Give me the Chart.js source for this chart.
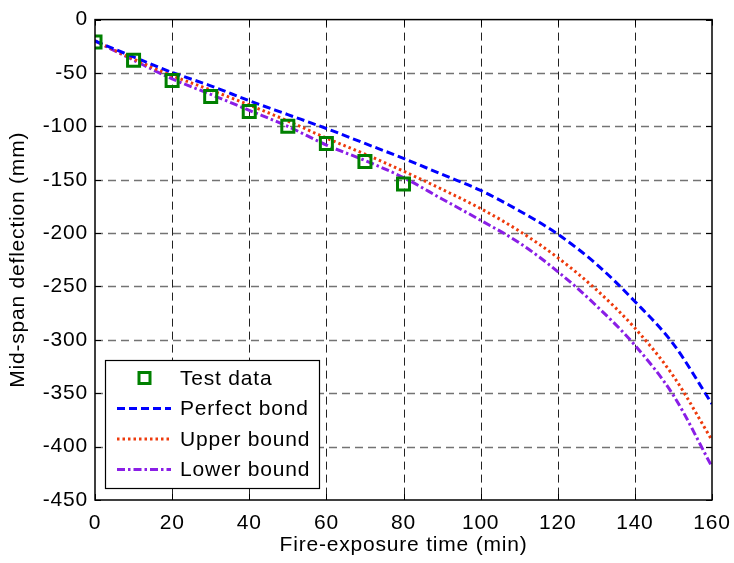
<!DOCTYPE html>
<html>
<head>
<meta charset="utf-8">
<script src="https://cdn.jsdelivr.net/npm/chart.js@4/dist/chart.umd.min.js"></script>
<style>
  body { margin: 0; background: #fff; }
  #wrap { width: 734px; height: 563px; }
</style>
</head>
<body>
<div id="wrap"><canvas id="deflectionChart" width="734" height="563"></canvas></div>
<script>
// fire exposure time (min)
var times = [0, 10, 20, 30, 40, 50, 60, 70, 80, 90, 100, 110, 120, 130, 140, 150, 160];
// mid-span deflection (mm) from the models
var perfectBond = [-20, -35, -49.5, -62, -76, -89, -102, -116, -130, -145, -160, -179, -201, -229, -264, -304, -360];
var upperBound = [-20, -37, -52.5, -66, -80, -95, -111, -126, -142, -159, -177, -198, -223, -253, -289, -334, -394];
var lowerBound = [-20, -38, -55.5, -70, -85, -100, -117.5, -132, -148, -168, -188, -209, -236, -268, -305, -352, -419];
// furnace test
var testTimes = [0, 10, 20, 30, 40, 50, 60, 70, 80];
var testData = [-21, -38, -57, -72, -86, -100, -116, -133, -154];

var xTicks = [0, 20, 40, 60, 80, 100, 120, 140, 160];
var yTicks = [0, -50, -100, -150, -200, -250, -300, -350, -400, -450];

var FONT = "'Liberation Sans', Arial, sans-serif";
var FSIZE = 21;

toXY = (xs, ys) => xs.map((x, i) => ({ x: x, y: ys[i] }));

/************************ grid + box */
var matlabAxes = {
    id: 'matlabAxes',
    beforeDraw: (chart) => {
        // helvetica-like wider spacing
        chart.ctx.letterSpacing = '0.8px';
    },
    beforeDatasetsDraw: (chart) => {
        let ctx = chart.ctx, a = chart.chartArea;
        let xs = chart.scales.x, ys = chart.scales.y;
        ctx.save();
        ctx.setLineDash([8, 5]);
        // horizontal grid
        ctx.strokeStyle = 'rgba(0,0,0,0.55)';
        ctx.lineWidth = 1.5;
        yTicks.forEach(v => {
            let py = Math.round(ys.getPixelForValue(v)) + 0.5;
            if (py <= a.top + 1 || py >= a.bottom - 1) return;
            ctx.beginPath(); ctx.moveTo(a.left, py); ctx.lineTo(a.right, py); ctx.stroke();
        });
        // vertical grid
        ctx.strokeStyle = '#222';
        ctx.lineWidth = 1;
        xTicks.forEach(v => {
            let px = Math.round(xs.getPixelForValue(v)) + 0.5;
            if (px <= a.left + 1 || px >= a.right - 1) return;
            ctx.beginPath(); ctx.moveTo(px, a.top); ctx.lineTo(px, a.bottom); ctx.stroke();
        });
        ctx.restore();
    },
    afterDraw: (chart) => {
        let ctx = chart.ctx, a = chart.chartArea;
        let xs = chart.scales.x, ys = chart.scales.y;
        ctx.save();
        ctx.strokeStyle = '#000';
        ctx.lineWidth = 1.5;
        ctx.strokeRect(a.left, a.top, a.right - a.left, a.bottom - a.top);
        // inward ticks on all sides
        ctx.lineWidth = 1;
        let t = 6;
        xTicks.forEach(v => {
            let px = Math.round(xs.getPixelForValue(v)) + 0.5;
            ctx.beginPath();
            ctx.moveTo(px, a.bottom); ctx.lineTo(px, a.bottom - t);
            ctx.moveTo(px, a.top); ctx.lineTo(px, a.top + t);
            ctx.stroke();
        });
        yTicks.forEach(v => {
            let py = Math.round(ys.getPixelForValue(v)) + 0.5;
            ctx.beginPath();
            ctx.moveTo(a.left, py); ctx.lineTo(a.left + t, py);
            ctx.moveTo(a.right, py); ctx.lineTo(a.right - t, py);
            ctx.stroke();
        });

        // legend, lower left inside the axes
        let lx = a.left + 10, ly = a.bottom - 140, lw = 214, lh = 128;
        ctx.fillStyle = '#fff';
        ctx.fillRect(lx, ly, lw, lh);
        ctx.lineWidth = 1.2;
        ctx.strokeStyle = '#000';
        ctx.strokeRect(lx + 0.5, ly + 0.5, lw, lh);
        ctx.font = FSIZE + 'px ' + FONT;
        ctx.textBaseline = 'middle';
        ctx.fillStyle = '#000';
        chart.data.datasets.forEach((ds, i) => {
            let rowY = ly + 18 + i * 30.5;
            if (ds.showLine === false) {
                ctx.setLineDash([]);
                ctx.strokeStyle = ds.pointBorderColor;
                ctx.lineWidth = ds.pointBorderWidth;
                ctx.strokeRect(lx + 34, rowY - 5.5, 11, 11);
            } else {
                ctx.setLineDash(ds.borderDash);
                ctx.strokeStyle = ds.borderColor;
                ctx.lineWidth = ds.borderWidth;
                ctx.beginPath(); ctx.moveTo(lx + 12, rowY); ctx.lineTo(lx + 66, rowY); ctx.stroke();
            }
            ctx.setLineDash([]);
            ctx.fillText(ds.label, lx + 75, rowY + 1);
        });
        ctx.restore();
    }
};

var ctx2d = document.getElementById('deflectionChart').getContext('2d');
var deflectionChart = new Chart(ctx2d, {
    type: 'line',
    data: {
        datasets: [{
            label: 'Test data',
            data: toXY(testTimes, testData),
            showLine: false,
            pointStyle: 'rect',
            pointRadius: 8.5,
            pointBorderWidth: 3,
            pointBorderColor: '#008000',
            pointBackgroundColor: 'rgba(0,0,0,0)',
            order: 0
        }, {
            label: 'Perfect bond',
            data: toXY(times, perfectBond),
            borderColor: '#0000ff',
            borderWidth: 3,
            borderDash: [8, 4],
            pointRadius: 0,
            cubicInterpolationMode: 'monotone',
            order: 1
        }, {
            label: 'Upper bound',
            data: toXY(times, upperBound),
            borderColor: '#ee3a0c',
            borderWidth: 3,
            borderDash: [2.5, 3],
            pointRadius: 0,
            cubicInterpolationMode: 'monotone',
            order: 2
        }, {
            label: 'Lower bound',
            data: toXY(times, lowerBound),
            borderColor: '#8a1ee6',
            borderWidth: 3,
            borderDash: [8, 3, 2.5, 3],
            pointRadius: 0,
            cubicInterpolationMode: 'monotone',
            order: 3
        }]
    },
    options: {
        responsive: false,
        animation: false,
        events: [],
        layout: { padding: { left: 0, right: 22, top: 15, bottom: 0 } },
        plugins: { legend: { display: false }, tooltip: { enabled: false } },
        scales: {
            x: {
                type: 'linear',
                min: 0, max: 160,
                afterBuildTicks: (s) => { s.ticks = xTicks.map(v => ({ value: v })); },
                afterFit: (s) => { s.height = 63; },
                grid: { display: false },
                border: { display: false },
                ticks: { color: '#000', font: { family: FONT, size: FSIZE }, padding: 3, maxRotation: 0 },
                title: { display: true, text: 'Fire-exposure time (min)', color: '#000', font: { family: FONT, size: FSIZE }, padding: { top: 0, bottom: 5 } }
            },
            y: {
                type: 'linear',
                min: -450, max: 0,
                afterBuildTicks: (s) => { s.ticks = yTicks.map(v => ({ value: v })); },
                afterFit: (s) => { s.width = 95; },
                grid: { display: false, drawTicks: false },
                border: { display: false },
                ticks: { color: '#000', font: { family: FONT, size: FSIZE }, padding: 7 },
                title: { display: true, text: 'Mid-span deflection (mm)', color: '#000', font: { family: FONT, size: FSIZE }, padding: { top: 6, bottom: 0 } }
            }
        }
    },
    plugins: [matlabAxes]
});
</script>
</body>
</html>
